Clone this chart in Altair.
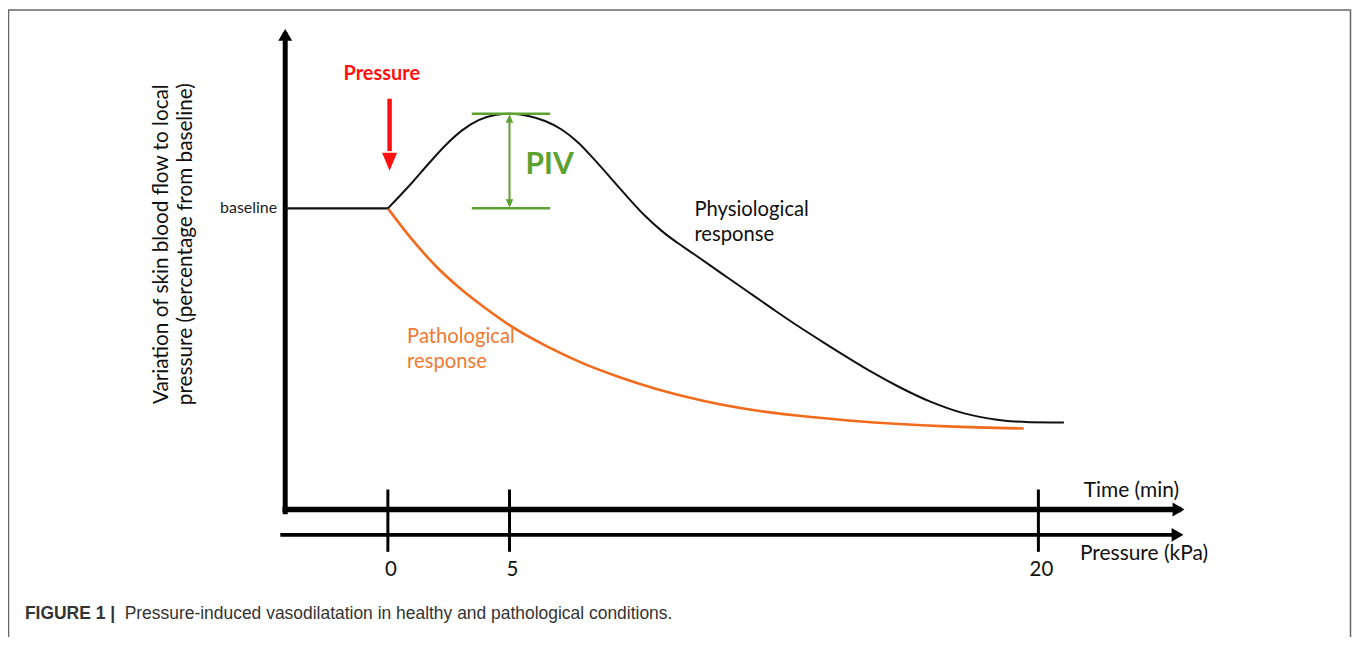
import altair as alt
import pandas as pd

# ---------------- data (schematic units) ----------------
# x: position along the time axis (minutes, schematic), y: skin blood flow (% of baseline)
baseline_level = 100
baseline_start = -4.22

phys_t = [0, 1.0, 1.68, 2.36, 3.05, 3.73, 4.41, 5.0, 5.78, 6.46, 7.14, 7.83, 8.51, 9.19,
          9.88, 10.56, 11.24, 11.93, 12.62, 13.7, 14.8, 15.8, 16.84, 17.9, 18.89, 19.9,
          20.94, 22.3, 23.69, 25.04, 26.39, 27.79]
phys_v = [100, 108.6, 114.9, 120.9, 125.9, 129.3, 131.0, 131.4, 130.7, 129.0, 126.2, 121.8,
          116.0, 109.8, 103.5, 97.6, 92.6, 88.4, 84.6, 78.5, 72.3, 66.7, 61.0, 55.5, 50.5,
          45.6, 41.0, 35.8, 31.9, 29.8, 29.0, 28.9]

patho_t = [0, 1.0, 2.0, 3.0, 4.0, 5.0, 6.5, 8.0, 9.5, 11.0, 13.0, 15.0, 17.5, 20.0, 23.0, 26.14]
patho_v = [100, 89.6, 80.6, 73.2, 66.9, 61.2, 54.3, 48.6, 44.0, 40.1, 36.0, 33.0, 30.6, 28.9,
           27.6, 26.9]

tick_pos = [0, 5, 26.74]
tick_labels = ["0", "5", "20"]

piv_low, piv_high = 100, 131.4
piv_t, piv_left, piv_right = 5.0, 3.45, 6.67

# axis geometry (schematic units)
yaxis_t = -4.22
yaxis_top = 157.6
time_axis_v = 0
time_axis_end = 32.5
press_axis_v = -8.44
press_axis_start, press_axis_end = -4.34, 32.46
tick_top, tick_bottom = 6.62, -14.07
tick_label_v = -20.0

arrow_t, arrow_top, arrow_head = 0.07, 136.4, 117.0

# ---------------- scales ----------------
xs = alt.Scale(domain=[-15.615, 39.631], nice=False, zero=False)
ys = alt.Scale(domain=[-42.38, 166.23], nice=False, zero=False)


def X(f):
    return alt.X(f, type="quantitative", scale=xs, axis=None)


def Y(f):
    return alt.Y(f, type="quantitative", scale=ys, axis=None)


FONT = "Lato"
BLACK = "#111111"
ORANGE = "#F26B1D"
ORANGE_TXT = "#EF7A32"
GREEN = "#5DA130"
RED = "#FF1010"

# ---------------- layers ----------------
phys = alt.Chart(pd.DataFrame({"t": phys_t, "v": phys_v})).mark_line(
    color=BLACK, strokeWidth=2, interpolate="monotone").encode(x=X("t"), y=Y("v"))

patho = alt.Chart(pd.DataFrame({"t": patho_t, "v": patho_v})).mark_line(
    color=ORANGE, strokeWidth=2.6, interpolate="monotone").encode(x=X("t"), y=Y("v"))

base_seg = alt.Chart(pd.DataFrame({"a": [baseline_start], "b": [0], "v": [baseline_level]})).mark_rule(
    color=BLACK, strokeWidth=2.2).encode(x=X("a"), x2="b", y=Y("v"))

# axes (thick arrows)
axes_df = pd.DataFrame({
    "a": [yaxis_t, yaxis_t, press_axis_start],
    "b": [yaxis_t, time_axis_end, press_axis_end],
    "c": [time_axis_v - 0.8, time_axis_v, press_axis_v],
    "d": [yaxis_top, time_axis_v, press_axis_v],
    "w": [5, 5.5, 4],
})
axes = alt.Chart(axes_df).mark_rule(color="black", strokeCap="square").encode(
    x=X("a"), x2="b", y=Y("c"), y2="d",
    strokeWidth=alt.StrokeWidth("w:Q", scale=None, legend=None))

heads_right = alt.Chart(pd.DataFrame({"t": [time_axis_end, press_axis_end],
                                      "v": [time_axis_v, press_axis_v]})).mark_point(
    shape="M-0.85,-1L0.85,0L-0.85,1Z", filled=True, size=196, color="black", opacity=1
).encode(x=X("t"), y=Y("v"))

head_up = alt.Chart(pd.DataFrame({"t": [yaxis_t], "v": [yaxis_top]})).mark_point(
    shape="M-1,0.85L0,-0.85L1,0.85Z", filled=True, size=196, color="black", opacity=1
).encode(x=X("t"), y=Y("v"))

ticks = alt.Chart(pd.DataFrame({"t": tick_pos, "a": [tick_top] * 3, "b": [tick_bottom] * 3})).mark_rule(
    color="black", strokeWidth=3).encode(x=X("t"), y=Y("a"), y2="b")

tick_text = alt.Chart(pd.DataFrame({"t": tick_pos, "label": tick_labels, "v": [tick_label_v] * 3})).mark_text(
    font=FONT, fontSize=20.5, color="#111", align="center", baseline="middle", dx=3
).encode(x=X("t"), y=Y("v"), text="label:N")

axis_names = alt.Chart(pd.DataFrame({
    "t": [28.6, 28.45],
    "v": [6.2, -14.9],
    "label": ["Time (min)", "Pressure (kPa)"],
})).mark_text(font=FONT, fontSize=21, color="#111", align="left", baseline="middle").encode(
    x=X("t"), y=Y("v"), text="label:N")

baseline_lbl = alt.Chart(pd.DataFrame({"t": [-4.55], "v": [baseline_level], "label": ["baseline"]})).mark_text(
    font=FONT, fontSize=16, color="#222", align="right", baseline="middle").encode(
    x=X("t"), y=Y("v"), text="label:N")

ytitle = alt.Chart(pd.DataFrame({
    "t": [-9.3, -8.3],
    "v": [88.1, 88.1],
    "label": ["Variation of skin blood flow to local", "pressure (percentage from baseline)"],
})).mark_text(font=FONT, fontSize=20.8, color="#111", align="center", baseline="middle", angle=270).encode(
    x=X("t"), y=Y("v"), text="label:N")

# PIV annotation
piv_lines = alt.Chart(pd.DataFrame({"a": [piv_left, piv_left], "b": [piv_right, piv_right],
                                    "v": [piv_low, piv_high]})).mark_rule(
    color=GREEN, strokeWidth=2.5).encode(x=X("a"), x2="b", y=Y("v"))
piv_vert = alt.Chart(pd.DataFrame({"t": [piv_t], "a": [piv_low + 1], "b": [piv_high - 1]})).mark_rule(
    color=GREEN, strokeWidth=2).encode(x=X("t"), y=Y("a"), y2="b")
piv_heads = alt.Chart(pd.DataFrame({"t": [piv_t, piv_t], "v": [piv_high - 1.6, piv_low + 1.6],
                                    "s": ["up", "down"]})).mark_point(
    filled=True, size=70, color=GREEN, opacity=1).encode(
    x=X("t"), y=Y("v"),
    shape=alt.Shape("s:N", scale=alt.Scale(domain=["up", "down"],
                                           range=["M-0.9,1L0,-1L0.9,1Z", "M-0.9,-1L0,1L0.9,-1Z"]),
                    legend=None))
piv_text = alt.Chart(pd.DataFrame({"t": [5.66], "v": [114.5], "label": ["PIV"]})).mark_text(
    font=FONT, fontSize=30, fontWeight="bold", color=GREEN, align="left", baseline="middle").encode(
    x=X("t"), y=Y("v"), text="label:N")

# Pressure arrow
p_text = alt.Chart(pd.DataFrame({"t": [-0.25], "v": [144.6], "label": ["Pressure"]})).mark_text(
    font=FONT, fontSize=20, fontWeight="bold", color=RED, align="center", baseline="middle").encode(
    x=X("t"), y=Y("v"), text="label:N")
p_shaft = alt.Chart(pd.DataFrame({"t": [arrow_t], "a": [arrow_top], "b": [arrow_head + 2]})).mark_rule(
    color=RED, strokeWidth=4.5).encode(x=X("t"), y=Y("a"), y2="b")
p_head = alt.Chart(pd.DataFrame({"t": [arrow_t], "v": [arrow_head - 1.5]})).mark_point(
    shape="M-1,-1.2L1,-1.2L0,1.2Z", filled=True, size=225, color=RED, opacity=1).encode(
    x=X("t"), y=Y("v"))

# response labels
resp = alt.Chart(pd.DataFrame({
    "t": [12.6, 12.6, 0.79, 0.79],
    "v": [99.6, 91.3, 57.3, 49.0],
    "label": ["Physiological", "response", "Pathological", "response"],
    "c": ["p", "p", "o", "o"],
})).mark_text(font=FONT, fontSize=20.3, align="left", baseline="middle").encode(
    x=X("t"), y=Y("v"), text="label:N",
    color=alt.Color("c:N", scale=alt.Scale(domain=["p", "o"], range=["#111111", ORANGE_TXT]), legend=None))

# caption
cap_bold = alt.Chart(pd.DataFrame({"t": [-14.92], "v": [-34.6], "label": ["FIGURE 1 |"]})).mark_text(
    font="Liberation Sans", fontSize=17.5, fontWeight="bold", color="#333", align="left", baseline="middle").encode(
    x=X("t"), y=Y("v"), text="label:N")
cap_text = alt.Chart(pd.DataFrame({"t": [-10.82], "v": [-34.6],
                                   "label": ["Pressure-induced vasodilatation in healthy and pathological conditions."]})).mark_text(
    font="Liberation Sans", fontSize=17.5, color="#333", align="left", baseline="middle").encode(
    x=X("t"), y=Y("v"), text="label:N")

# figure frame (open at the bottom)
one = pd.DataFrame({"k": [0]})
frame_l = alt.Chart(one).mark_rule(color="#666", strokeWidth=1.5).encode(
    x=alt.value(0.5), y=alt.value(0.5), y2=alt.value(630))
frame_t = alt.Chart(one).mark_rule(color="#666", strokeWidth=1.5).encode(
    x=alt.value(0.5), x2=alt.value(1346.5), y=alt.value(1))
frame_r = alt.Chart(one).mark_rule(color="#666", strokeWidth=1.5).encode(
    x=alt.value(1346.5), y=alt.value(0.5), y2=alt.value(630))

chart = alt.layer(
    frame_l, frame_t, frame_r,
    axes, heads_right, head_up, ticks, tick_text, axis_names, baseline_lbl, ytitle,
    base_seg, patho, phys,
    piv_lines, piv_vert, piv_heads, piv_text,
    p_text, p_shaft, p_head, resp, cap_bold, cap_text,
).properties(
    width=1348, height=630, padding=0, autosize=alt.AutoSizeParams(type="none"), background="white"
).configure_view(stroke=None)

chart.save("out.html", embed_options={"renderer": "svg", "actions": False})
